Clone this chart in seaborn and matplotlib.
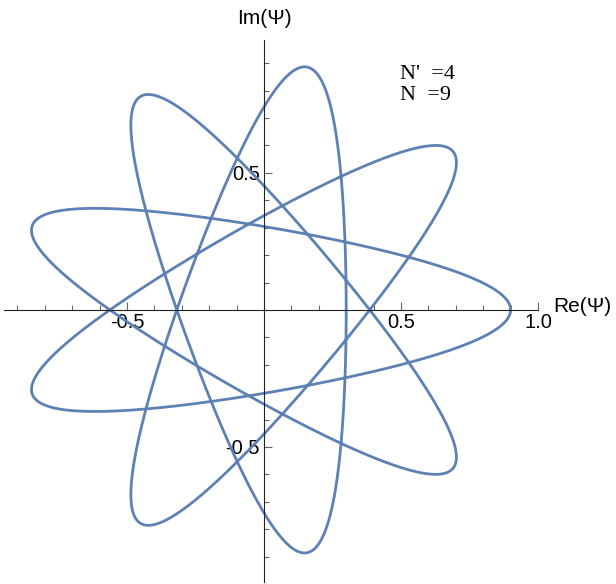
import numpy as np
import pandas as pd
import seaborn as sns
import matplotlib
matplotlib.use("Agg")
import matplotlib.pyplot as plt
from matplotlib.ticker import FixedLocator, MultipleLocator

# curve components: outer radius 0.9, inner radius 0.3, 9 lobes
amplitudes = [0.6, 0.3]
frequencies = [8, -10]
n_prime = 4
n_total = 9

x_major = [-0.5, 0.5, 1.0]
y_major = [-0.5, 0.5]
x_labels = ["-0.5", "0.5", "1.0"]
y_labels = ["-0.5", "0.5"]

s = np.linspace(0, np.pi, 4001)
psi = sum(a * np.exp(1j * f * s) for a, f in zip(amplitudes, frequencies))
df = pd.DataFrame({"re": psi.real, "im": psi.imag})

sns.set_theme(style="white")
plt.rcParams["font.family"] = ["Liberation Sans", "DejaVu Sans"]
plt.rcParams["text.color"] = "black"

W, H = 616, 584
fig = plt.figure(figsize=(W / 100, H / 100), dpi=100)
ax = fig.add_axes([4 / W, 2 / H, 534 / W, 542 / H])

sns.lineplot(data=df, x="re", y="im", sort=False, estimator=None,
             color="#5E81B5", lw=2.0, ax=ax)
ax.set_xlim(-0.949, 1.0)
ax.set_ylim(-0.993, 0.985)
ax.set_xlabel("")
ax.set_ylabel("")

for side in ["top", "right"]:
    ax.spines[side].set_visible(False)
for side in ["left", "bottom"]:
    ax.spines[side].set_position(("data", 0))
    ax.spines[side].set_color("#222222")
    ax.spines[side].set_linewidth(0.8)

ax.xaxis.set_major_locator(FixedLocator(x_major))
ax.yaxis.set_major_locator(FixedLocator(y_major))
ax.set_xticklabels(x_labels)
ax.set_yticklabels(y_labels)
ax.xaxis.set_minor_locator(MultipleLocator(0.1))
ax.yaxis.set_minor_locator(MultipleLocator(0.1))

ax.tick_params(which="both", direction="in", bottom=True, left=True,
               color="#666666", width=0.8)
ax.tick_params(which="major", length=5.5)
ax.tick_params(which="minor", length=3.5)
ax.tick_params(axis="x", which="major", labelsize=14.5, pad=2.5, labelcolor="black")
ax.tick_params(axis="y", which="major", labelsize=14.5, pad=3, labelcolor="black")

ax.annotate("Re(\u03a8)", xy=(1.0, 0), xytext=(15, 3), textcoords="offset pixels",
            ha="left", va="center", fontsize=15, color="black")
ax.annotate("Im(\u03a8)", xy=(0, 0.985), xytext=(0, 22), textcoords="offset pixels",
            ha="center", va="center", fontsize=15, color="black")

fig.text(400 / W, 1 - 85 / H, "N'  =%d\nN  =%d" % (n_prime, n_total),
         ha="left", va="center", fontsize=16, linespacing=1.15, color="black",
         family=["Liberation Serif", "DejaVu Serif"])

fig.savefig("out.png", dpi=100, facecolor="white")
